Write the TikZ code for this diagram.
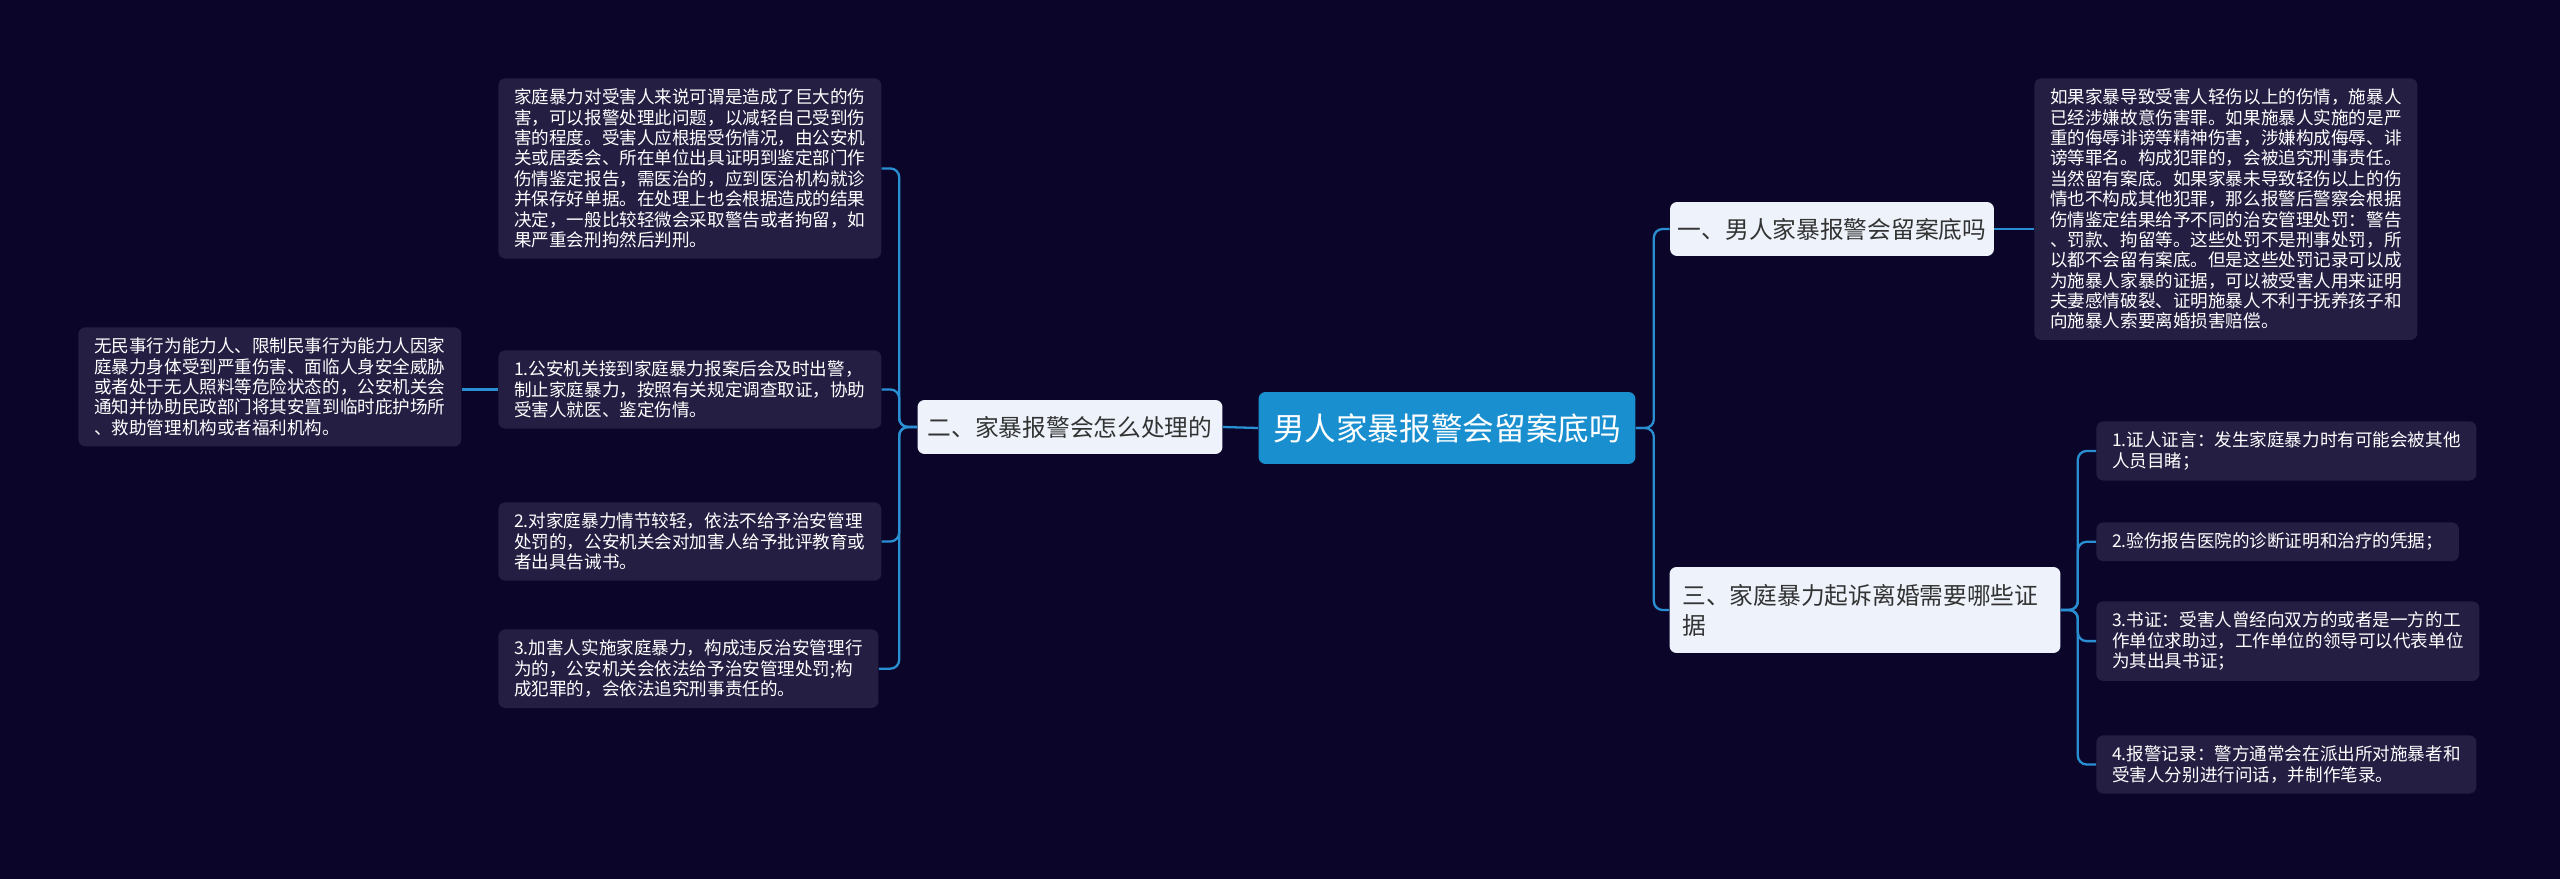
\documentclass[tikz,border=0pt]{standalone}
\usepackage{fontspec}
\newfontfamily\cjk{Noto Sans CJK SC}
\definecolor{bgc}{HTML}{0B0629}
\definecolor{leafc}{HTML}{231E42}
\definecolor{linkc}{HTML}{2A8FD2}
\definecolor{rootc}{HTML}{1A8FD0}
\definecolor{branchc}{HTML}{EEF3FB}
\tikzset{
	root/.style={fill=rootc, rounded corners=4pt, text=white, minimum width=7.54cm,
		minimum height=1.44cm, font=\cjk\fontsize{18}{22}\selectfont},
	branch/.style={fill=branchc, rounded corners=4pt, text=black!80, minimum height=1.08cm,
		font=\cjk\fontsize{13.5}{17}\selectfont},
	leaf/.style={fill=leafc, rounded corners=4pt, text=white, anchor=north west, align=left,
		inner xsep=9pt, inner ysep=6pt, font=\cjk\fontsize{10}{11.6}\selectfont},
	link/.style={draw=linkc, line width=1.3pt, rounded corners=5pt}
}
\begin{document}
\begin{tikzpicture}[x=0.02cm, y=-0.02cm]
	\fill[bgc] (0,0) rectangle (2560,879);
	\useasboundingbox (0,0) rectangle (2560,879);

	% root and branches
	\node[root] (root) at (1447,428) {男人家暴报警会留案底吗};
	\node[branch, minimum width=6.1cm] (b2) at (1070,427) {二、家暴报警会怎么处理的};
	\node[branch, minimum width=6.48cm] (b1) at (1832,229) {一、男人家暴报警会留案底吗};
	\node[branch, minimum width=7.82cm, minimum height=1.72cm, align=left, text width=7.3cm]
		(b3) at (1865,610) {三、家庭暴力起诉离婚需要哪些证\\据};

	% left leaves
	\node[leaf] (l0) at (498,78) {家庭暴力对受害人来说可谓是造成了巨大的伤\\害，可以报警处理此问题，以减轻自己受到伤\\害的程度。受害人应根据受伤情况，由公安机\\关或居委会、所在单位出具证明到鉴定部门作\\伤情鉴定报告，需医治的，应到医治机构就诊\\并保存好单据。在处理上也会根据造成的结果\\决定，一般比较轻微会采取警告或者拘留，如\\果严重会刑拘然后判刑。};
	\node[leaf] (l1) at (498,350) {1.公安机关接到家庭暴力报案后会及时出警，\\制止家庭暴力，按照有关规定调查取证，协助\\受害人就医、鉴定伤情。};
	\node[leaf] (l2) at (498,502) {2.对家庭暴力情节较轻，依法不给予治安管理\\处罚的，公安机关会对加害人给予批评教育或\\者出具告诫书。};
	\node[leaf] (l3) at (498,629) {3.加害人实施家庭暴力，构成违反治安管理行\\为的，公安机关会依法给予治安管理处罚;构\\成犯罪的，会依法追究刑事责任的。};
	\node[leaf] (l11) at (78,327) {无民事行为能力人、限制民事行为能力人因家\\庭暴力身体受到严重伤害、面临人身安全威胁\\或者处于无人照料等危险状态的，公安机关会\\通知并协助民政部门将其安置到临时庇护场所\\、救助管理机构或者福利机构。};

	% right leaves
	\node[leaf] (r0) at (2034,78) {如果家暴导致受害人轻伤以上的伤情，施暴人\\已经涉嫌故意伤害罪。如果施暴人实施的是严\\重的侮辱诽谤等精神伤害，涉嫌构成侮辱、诽\\谤等罪名。构成犯罪的，会被追究刑事责任。\\当然留有案底。如果家暴未导致轻伤以上的伤\\情也不构成其他犯罪，那么报警后警察会根据\\伤情鉴定结果给予不同的治安管理处罚：警告\\、罚款、拘留等。这些处罚不是刑事处罚，所\\以都不会留有案底。但是这些处罚记录可以成\\为施暴人家暴的证据，可以被受害人用来证明\\夫妻感情破裂、证明施暴人不利于抚养孩子和\\向施暴人索要离婚损害赔偿。};
	\node[leaf] (r1) at (2096,421) {1.证人证言：发生家庭暴力时有可能会被其他\\人员目睹；};
	\node[leaf] (r2) at (2096,522) {2.验伤报告医院的诊断证明和治疗的凭据；};
	\node[leaf] (r3) at (2096,601) {3.书证：受害人曾经向双方的或者是一方的工\\作单位求助过，工作单位的领导可以代表单位\\为其出具书证；};
	\node[leaf] (r4) at (2096,735) {4.报警记录：警方通常会在派出所对施暴者和\\受害人分别进行问话，并制作笔录。};

	% connectors
	\draw[link] (root.west) -- (b2.east);
	\foreach \c in {l0,l1,l2,l3}
		\draw[link] (b2.west) -- ++(-18,0) |- (\c.east);
	\draw[link] (l1.west) -- (l1.west -| l11.east);
	\foreach \c in {b1,b3}
		\draw[link] (root.east) -- ++(18,0) |- (\c.west);
	\draw[link] (b1.east) -- (b1.east -| r0.west);
	\foreach \c in {r1,r2,r3,r4}
		\draw[link] (b3.east) -- ++(17,0) |- (\c.west);
\end{tikzpicture}
\end{document}
